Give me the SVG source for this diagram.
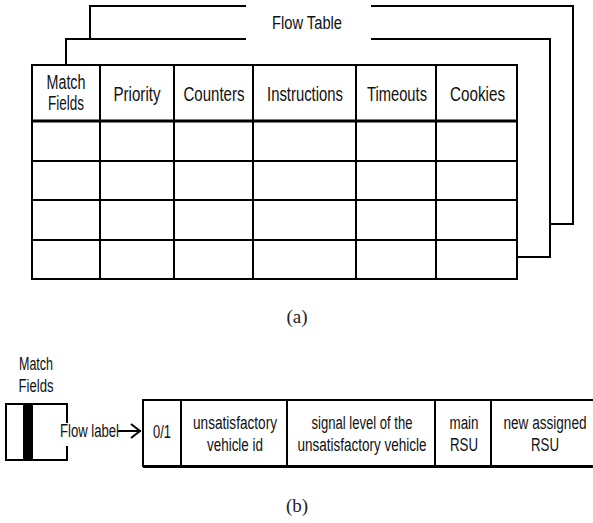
<svg xmlns="http://www.w3.org/2000/svg" width="593" height="523" viewBox="0 0 593 523">
<style>
.ln{fill:none;stroke:#000;stroke-width:2;stroke-linecap:square}
.t{font-family:"Liberation Sans",Arial,sans-serif;font-size:20px;fill:#111;text-anchor:middle}
.s{font-family:"Liberation Sans",Arial,sans-serif;font-size:18px;fill:#111;text-anchor:middle}
.cap{font-family:"Liberation Serif","Times New Roman",serif;font-size:19px;fill:#222;text-anchor:middle}
</style>
<defs>
<marker id="chev" markerWidth="12" markerHeight="16" refX="10" refY="8" orient="auto" markerUnits="userSpaceOnUse">
<path d="M1,1 L10,8 L1,15" fill="none" stroke="#000" stroke-width="2"/>
</marker>
</defs>
<rect width="593" height="523" fill="#fff"/>

<g id="sheet-back">
<path class="ln" d="M90,39 V6 H245 M372,6 H573 V224 H550"/>
</g>
<g id="sheet-middle">
<path class="ln" d="M66,65 V39 H245 M372,39 H550 V257 H517"/>
</g>
<g id="flow-table-title">
<text class="s" x="307" y="29" textLength="70" lengthAdjust="spacingAndGlyphs">Flow Table</text>
</g>

<g id="flow-table">
<rect class="ln" x="32" y="65" width="485" height="214"/>
<path class="ln" d="M100,65 V279 M174,65 V279 M253,65 V279 M356,65 V279 M436,65 V279"/>
<path class="ln" d="M32,161 H517 M32,200 H517 M32,240 H517"/>
<path fill="none" stroke="#000" stroke-width="3" d="M32,121 H517"/>
<text class="t" x="66" y="89" textLength="39" lengthAdjust="spacingAndGlyphs">Match</text>
<text class="t" x="66" y="110" textLength="36" lengthAdjust="spacingAndGlyphs">Fields</text>
<text class="t" x="137" y="101" textLength="47" lengthAdjust="spacingAndGlyphs">Priority</text>
<text class="t" x="214" y="101" textLength="61" lengthAdjust="spacingAndGlyphs">Counters</text>
<text class="t" x="305" y="101" textLength="76" lengthAdjust="spacingAndGlyphs">Instructions</text>
<text class="t" x="397" y="101" textLength="60" lengthAdjust="spacingAndGlyphs">Timeouts</text>
<text class="t" x="477.5" y="101" textLength="55" lengthAdjust="spacingAndGlyphs">Cookies</text>
</g>

<g id="caption-a">
<text class="cap" x="297" y="323">(a)</text>
</g>

<g id="match-fields-box">
<text class="s" x="36" y="370" textLength="34" lengthAdjust="spacingAndGlyphs">Match</text>
<text class="s" x="36" y="392" textLength="35" lengthAdjust="spacingAndGlyphs">Fields</text>
<path class="ln" d="M67,422 V404 H6 V460 H67 V447"/>
<rect x="23" y="404" width="10" height="56" fill="#000"/>
<text class="s" x="89.5" y="437" textLength="59" lengthAdjust="spacingAndGlyphs">Flow label</text>
</g>

<g id="connectors">
<path class="ln" d="M119,431 H140" marker-end="url(#chev)"/>
</g>

<g id="flow-label-record">
<path class="ln" d="M600,400 H143 V466"/>
<path fill="none" stroke="#000" stroke-width="3" d="M143,466.5 H600"/>
<path class="ln" d="M181,400 V466 M287,400 V466 M435,400 V466 M491,400 V466"/>
<text class="s" x="162" y="438" textLength="18" lengthAdjust="spacingAndGlyphs">0/1</text>
<text class="s" x="235" y="429" textLength="84" lengthAdjust="spacingAndGlyphs">unsatisfactory</text>
<text class="s" x="235" y="451" textLength="56" lengthAdjust="spacingAndGlyphs">vehicle id</text>
<text class="s" x="362" y="429" textLength="101" lengthAdjust="spacingAndGlyphs">signal level of the</text>
<text class="s" x="362" y="451" textLength="129" lengthAdjust="spacingAndGlyphs">unsatisfactory vehicle</text>
<text class="s" x="464" y="429" textLength="29" lengthAdjust="spacingAndGlyphs">main</text>
<text class="s" x="464" y="451" textLength="28" lengthAdjust="spacingAndGlyphs">RSU</text>
<text class="s" x="545" y="429" textLength="83" lengthAdjust="spacingAndGlyphs">new assigned</text>
<text class="s" x="545" y="451" textLength="28" lengthAdjust="spacingAndGlyphs">RSU</text>
</g>

<g id="caption-b">
<text class="cap" x="297" y="512">(b)</text>
</g>
</svg>
